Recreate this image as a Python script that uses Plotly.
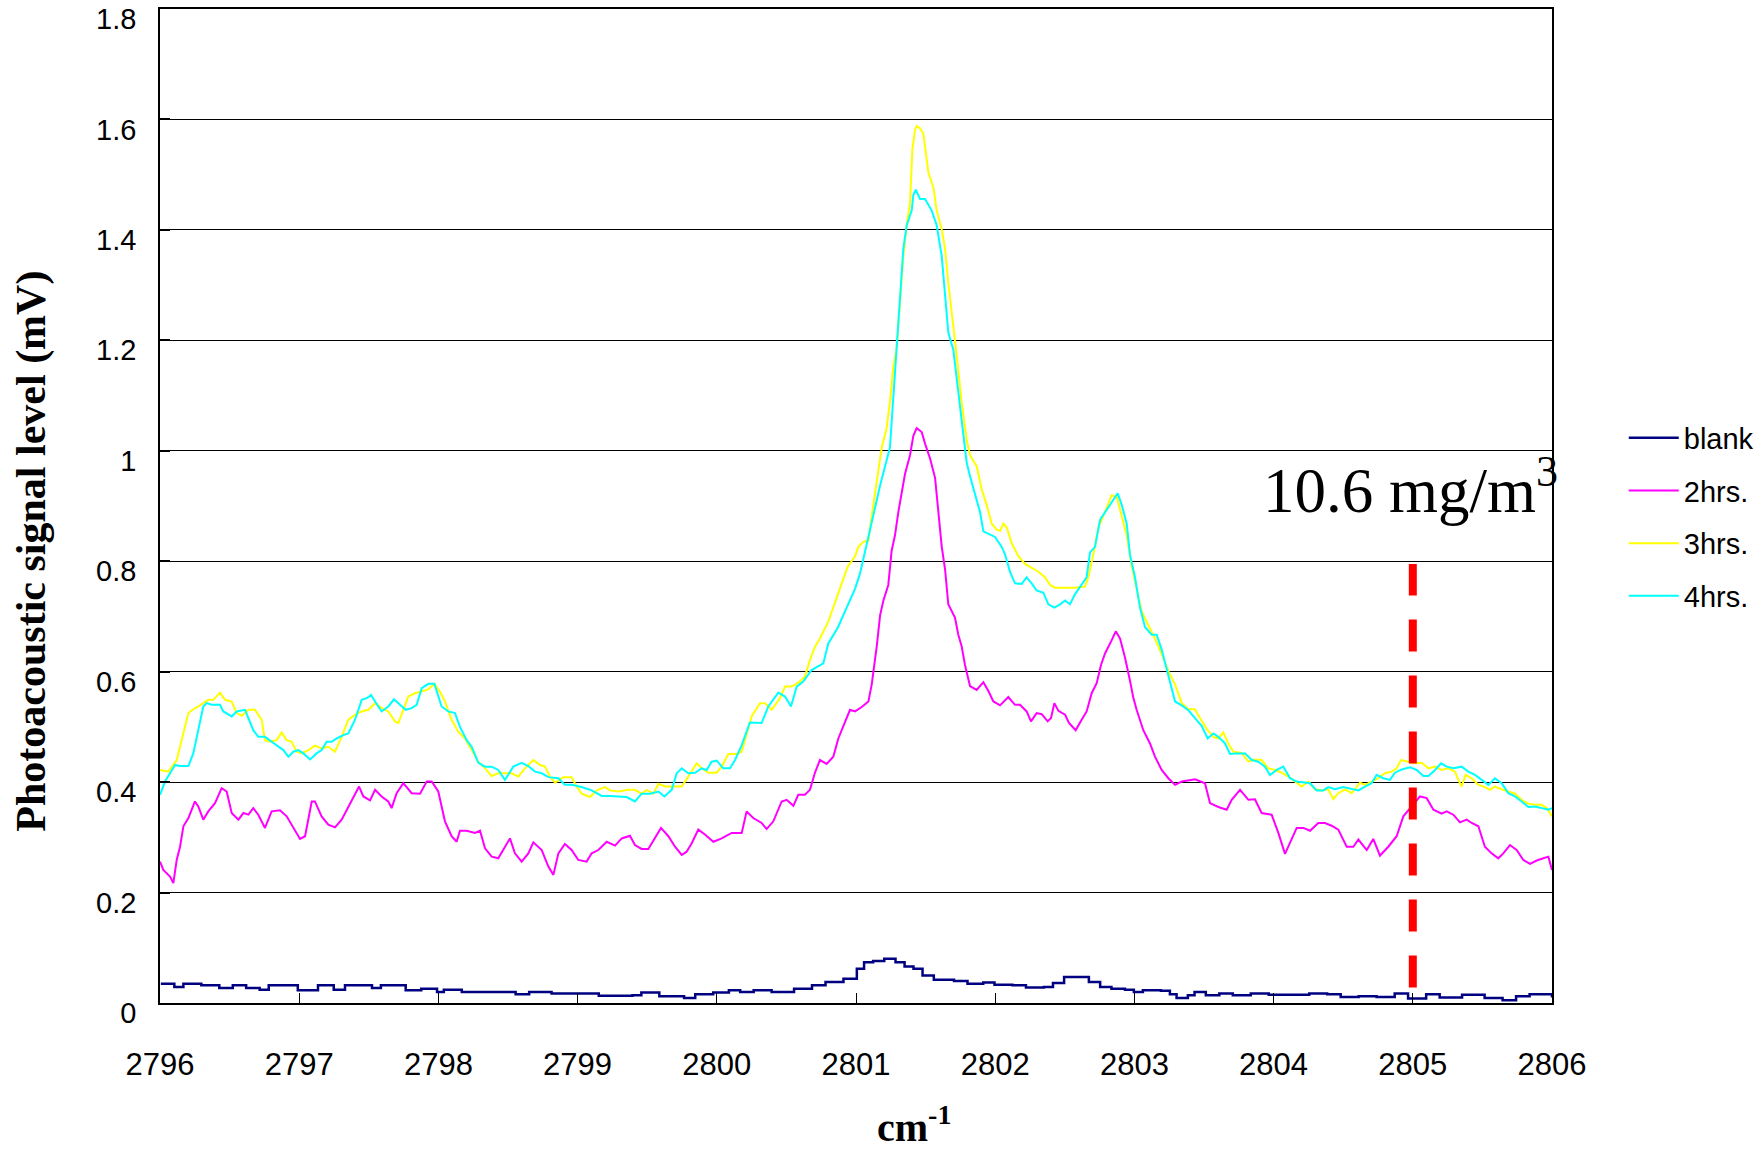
import plotly.graph_objects as go

# ---------------- data ----------------
series_names = ["blank", "2hrs.", "3hrs.", "4hrs."]
series_colors = ["#000080", "#FF00FF", "#FFFF00", "#00FFFF"]

x_ticks = [2796, 2797, 2798, 2799, 2800, 2801, 2802, 2803, 2804, 2805, 2806]
y_ticks = [0, 0.2, 0.4, 0.6, 0.8, 1.0, 1.2, 1.4, 1.6, 1.8]
y_tick_labels = ["0", "0.2", "0.4", "0.6", "0.8", "1", "1.2", "1.4", "1.6", "1.8"]

x_blank = [2796.006, 2796.103, 2796.168, 2796.232, 2796.297, 2796.426, 2796.523, 2796.619, 2796.716, 2796.781,
           2796.910, 2796.990, 2797.135, 2797.248, 2797.329, 2797.523, 2797.587, 2797.668, 2797.765, 2797.877,
           2797.990, 2798.039, 2798.168, 2798.361, 2798.555, 2798.652, 2798.813, 2799.006, 2799.152, 2799.394,
           2799.458, 2799.587, 2799.765, 2799.845, 2799.974, 2800.087, 2800.168, 2800.265, 2800.394, 2800.555,
           2800.684, 2800.781, 2800.910, 2801.006, 2801.058, 2801.123, 2801.203, 2801.284, 2801.349, 2801.413,
           2801.478, 2801.559, 2801.704, 2801.801, 2801.914, 2801.995, 2802.124, 2802.221, 2802.350, 2802.415,
           2802.495, 2802.576, 2802.673, 2802.754, 2802.835, 2802.932, 2802.996, 2803.061, 2803.190, 2803.255,
           2803.303, 2803.384, 2803.432, 2803.513, 2803.610, 2803.707, 2803.836, 2803.965, 2804.094, 2804.256,
           2804.385, 2804.482, 2804.611, 2804.740, 2804.870, 2804.966, 2805.096, 2805.193, 2805.354, 2805.516,
           2805.645, 2805.742, 2805.839, 2805.935, 2806.000]
y_blank = [0.035, 0.029, 0.035, 0.035, 0.032, 0.027, 0.032, 0.027, 0.024, 0.032,
           0.032, 0.023, 0.032, 0.024, 0.032, 0.027, 0.032, 0.032, 0.023, 0.026,
           0.020, 0.024, 0.020, 0.020, 0.016, 0.020, 0.017, 0.017, 0.013, 0.014,
           0.019, 0.012, 0.009, 0.016, 0.019, 0.023, 0.020, 0.023, 0.020, 0.026,
           0.032, 0.038, 0.044, 0.062, 0.074, 0.076, 0.080, 0.074, 0.066, 0.062,
           0.050, 0.042, 0.040, 0.035, 0.037, 0.033, 0.032, 0.028, 0.029, 0.036,
           0.047, 0.047, 0.038, 0.029, 0.026, 0.024, 0.020, 0.023, 0.022, 0.016,
           0.009, 0.014, 0.020, 0.014, 0.017, 0.014, 0.017, 0.015, 0.015, 0.017,
           0.016, 0.011, 0.012, 0.011, 0.017, 0.008, 0.016, 0.010, 0.015, 0.009,
           0.005, 0.012, 0.016, 0.016, 0.010]

x_2hrs = [2796.000, 2796.024, 2796.072, 2796.096, 2796.120, 2796.144, 2796.168, 2796.204, 2796.251, 2796.275,
          2796.311, 2796.347, 2796.395, 2796.443, 2796.479, 2796.515, 2796.563, 2796.599, 2796.635, 2796.670,
          2796.706, 2796.754, 2796.802, 2796.862, 2796.910, 2796.958, 2797.006, 2797.042, 2797.090, 2797.113,
          2797.161, 2797.209, 2797.257, 2797.305, 2797.353, 2797.401, 2797.430, 2797.461, 2797.509, 2797.545,
          2797.592, 2797.640, 2797.664, 2797.700, 2797.748, 2797.808, 2797.868, 2797.916, 2797.952, 2797.999,
          2798.047, 2798.095, 2798.131, 2798.155, 2798.203, 2798.263, 2798.299, 2798.335, 2798.383, 2798.430,
          2798.466, 2798.514, 2798.550, 2798.598, 2798.646, 2798.682, 2798.742, 2798.790, 2798.826, 2798.862,
          2798.909, 2798.957, 2799.005, 2799.065, 2799.101, 2799.149, 2799.209, 2799.269, 2799.317, 2799.376,
          2799.412, 2799.460, 2799.508, 2799.556, 2799.599, 2799.652, 2799.700, 2799.748, 2799.783, 2799.819,
          2799.867, 2799.915, 2799.975, 2800.035, 2800.107, 2800.179, 2800.214, 2800.262, 2800.322, 2800.358,
          2800.406, 2800.466, 2800.502, 2800.550, 2800.585, 2800.633, 2800.669, 2800.705, 2800.741, 2800.789,
          2800.837, 2800.873, 2800.921, 2800.957, 2800.993, 2801.041, 2801.089, 2801.113, 2801.149, 2801.173,
          2801.197, 2801.232, 2801.256, 2801.280, 2801.304, 2801.328, 2801.352, 2801.388, 2801.412, 2801.436,
          2801.472, 2801.496, 2801.532, 2801.568, 2801.592, 2801.616, 2801.640, 2801.663, 2801.711, 2801.735,
          2801.759, 2801.783, 2801.819, 2801.867, 2801.915, 2801.951, 2801.987, 2802.035, 2802.094, 2802.142,
          2802.178, 2802.226, 2802.257, 2802.298, 2802.334, 2802.377, 2802.401, 2802.425, 2802.454, 2802.502,
          2802.530, 2802.578, 2802.621, 2802.657, 2802.693, 2802.729, 2802.760, 2802.789, 2802.837, 2802.866,
          2802.897, 2802.932, 2802.968, 2802.992, 2803.016, 2803.064, 2803.112, 2803.148, 2803.196, 2803.244,
          2803.292, 2803.340, 2803.436, 2803.507, 2803.543, 2803.603, 2803.663, 2803.699, 2803.759, 2803.819,
          2803.866, 2803.914, 2803.986, 2804.034, 2804.082, 2804.130, 2804.166, 2804.214, 2804.262, 2804.321,
          2804.369, 2804.417, 2804.465, 2804.525, 2804.573, 2804.609, 2804.669, 2804.716, 2804.764, 2804.824,
          2804.884, 2804.932, 2804.992, 2805.052, 2805.100, 2805.148, 2805.207, 2805.243, 2805.291, 2805.339,
          2805.387, 2805.423, 2805.471, 2805.518, 2805.566, 2805.614, 2805.650, 2805.698, 2805.746, 2805.794,
          2805.842, 2805.890, 2805.938, 2805.974, 2806.000]
y_2hrs = [0.256, 0.241, 0.229, 0.217, 0.259, 0.283, 0.320, 0.335, 0.365, 0.356,
          0.332, 0.347, 0.362, 0.389, 0.383, 0.344, 0.332, 0.344, 0.341, 0.353,
          0.341, 0.317, 0.347, 0.349, 0.338, 0.317, 0.297, 0.302, 0.365, 0.365,
          0.338, 0.323, 0.318, 0.332, 0.356, 0.377, 0.392, 0.374, 0.367, 0.386,
          0.374, 0.365, 0.353, 0.380, 0.398, 0.380, 0.379, 0.401, 0.401, 0.383,
          0.329, 0.302, 0.292, 0.312, 0.312, 0.308, 0.312, 0.280, 0.265, 0.262,
          0.277, 0.298, 0.271, 0.256, 0.271, 0.291, 0.277, 0.247, 0.232, 0.271,
          0.288, 0.277, 0.259, 0.256, 0.271, 0.277, 0.292, 0.285, 0.298, 0.303,
          0.286, 0.279, 0.279, 0.298, 0.317, 0.302, 0.283, 0.268, 0.274, 0.289,
          0.314, 0.305, 0.292, 0.298, 0.308, 0.308, 0.347, 0.335, 0.326, 0.315,
          0.329, 0.365, 0.368, 0.357, 0.377, 0.377, 0.386, 0.417, 0.440, 0.433,
          0.446, 0.479, 0.507, 0.531, 0.528, 0.536, 0.546, 0.577, 0.646, 0.702,
          0.729, 0.757, 0.819, 0.847, 0.889, 0.923, 0.958, 0.992, 1.027, 1.041,
          1.034, 1.013, 0.986, 0.951, 0.882, 0.826, 0.785, 0.722, 0.698, 0.667,
          0.646, 0.612, 0.574, 0.567, 0.581, 0.565, 0.546, 0.539, 0.554, 0.540,
          0.540, 0.528, 0.510, 0.525, 0.523, 0.510, 0.516, 0.543, 0.529, 0.522,
          0.507, 0.494, 0.513, 0.528, 0.561, 0.579, 0.612, 0.633, 0.657, 0.673,
          0.660, 0.626, 0.584, 0.553, 0.531, 0.494, 0.470, 0.446, 0.422, 0.407,
          0.395, 0.401, 0.405, 0.398, 0.362, 0.355, 0.350, 0.368, 0.386, 0.368,
          0.369, 0.344, 0.341, 0.308, 0.270, 0.296, 0.317, 0.317, 0.312, 0.326,
          0.326, 0.321, 0.314, 0.283, 0.283, 0.296, 0.277, 0.297, 0.267, 0.283,
          0.302, 0.338, 0.356, 0.374, 0.371, 0.350, 0.343, 0.347, 0.341, 0.327,
          0.332, 0.326, 0.320, 0.283, 0.271, 0.262, 0.271, 0.286, 0.277, 0.259,
          0.252, 0.258, 0.262, 0.265, 0.241]

x_3hrs = [2796.000, 2796.060, 2796.120, 2796.156, 2796.204, 2796.239, 2796.275, 2796.347, 2796.383, 2796.431,
          2796.467, 2796.515, 2796.551, 2796.587, 2796.635, 2796.682, 2796.730, 2796.754, 2796.790, 2796.838,
          2796.874, 2796.910, 2796.946, 2796.982, 2797.018, 2797.066, 2797.113, 2797.161, 2797.209, 2797.257,
          2797.305, 2797.353, 2797.401, 2797.449, 2797.497, 2797.545, 2797.592, 2797.640, 2797.688, 2797.712,
          2797.748, 2797.784, 2797.832, 2797.880, 2797.928, 2797.971, 2798.011, 2798.047, 2798.095, 2798.143,
          2798.191, 2798.239, 2798.287, 2798.335, 2798.383, 2798.430, 2798.478, 2798.526, 2798.574, 2798.622,
          2798.682, 2798.730, 2798.766, 2798.802, 2798.838, 2798.897, 2798.957, 2798.993, 2799.029, 2799.089,
          2799.137, 2799.197, 2799.233, 2799.293, 2799.364, 2799.412, 2799.460, 2799.496, 2799.544, 2799.580,
          2799.628, 2799.676, 2799.748, 2799.795, 2799.855, 2799.891, 2799.939, 2799.999, 2800.035, 2800.083,
          2800.143, 2800.179, 2800.202, 2800.250, 2800.310, 2800.346, 2800.394, 2800.454, 2800.490, 2800.538,
          2800.585, 2800.633, 2800.669, 2800.705, 2800.741, 2800.800, 2800.870, 2800.940, 2800.993, 2801.017,
          2801.053, 2801.089, 2801.113, 2801.149, 2801.185, 2801.220, 2801.244, 2801.268, 2801.292, 2801.316,
          2801.340, 2801.364, 2801.388, 2801.405, 2801.424, 2801.436, 2801.460, 2801.484, 2801.496, 2801.520,
          2801.556, 2801.580, 2801.616, 2801.640, 2801.663, 2801.687, 2801.711, 2801.735, 2801.759, 2801.795,
          2801.819, 2801.867, 2801.903, 2801.939, 2801.975, 2802.011, 2802.035, 2802.059, 2802.083, 2802.118,
          2802.166, 2802.214, 2802.262, 2802.310, 2802.358, 2802.394, 2802.430, 2802.478, 2802.526, 2802.573,
          2802.645, 2802.669, 2802.705, 2802.741, 2802.777, 2802.813, 2802.837, 2802.873, 2802.909, 2802.945,
          2802.980, 2803.016, 2803.052, 2803.100, 2803.148, 2803.196, 2803.244, 2803.292, 2803.340, 2803.388,
          2803.435, 2803.471, 2803.519, 2803.567, 2803.603, 2803.639, 2803.675, 2803.711, 2803.771, 2803.819,
          2803.866, 2803.914, 2803.962, 2804.010, 2804.058, 2804.106, 2804.154, 2804.202, 2804.250, 2804.297,
          2804.345, 2804.393, 2804.429, 2804.465, 2804.513, 2804.561, 2804.621, 2804.657, 2804.704, 2804.752,
          2804.800, 2804.848, 2804.884, 2804.915, 2804.968, 2805.016, 2805.064, 2805.112, 2805.160, 2805.207,
          2805.255, 2805.303, 2805.327, 2805.351, 2805.379, 2805.423, 2805.471, 2805.518, 2805.554, 2805.590,
          2805.638, 2805.686, 2805.734, 2805.782, 2805.830, 2805.878, 2805.926, 2805.962, 2806.000]
y_3hrs = [0.422, 0.419, 0.440, 0.476, 0.525, 0.532, 0.537, 0.549, 0.549, 0.562,
          0.549, 0.546, 0.525, 0.520, 0.531, 0.531, 0.513, 0.476, 0.473, 0.476,
          0.490, 0.476, 0.473, 0.455, 0.452, 0.458, 0.466, 0.461, 0.464, 0.455,
          0.482, 0.513, 0.522, 0.528, 0.531, 0.543, 0.534, 0.528, 0.510, 0.507,
          0.531, 0.555, 0.561, 0.564, 0.568, 0.578, 0.564, 0.546, 0.513, 0.491,
          0.479, 0.458, 0.437, 0.425, 0.411, 0.416, 0.416, 0.416, 0.410, 0.425,
          0.440, 0.431, 0.428, 0.410, 0.399, 0.409, 0.409, 0.392, 0.379, 0.373,
          0.385, 0.391, 0.385, 0.383, 0.386, 0.386, 0.379, 0.386, 0.379, 0.397,
          0.392, 0.392, 0.392, 0.410, 0.434, 0.425, 0.417, 0.417, 0.428, 0.451,
          0.451, 0.455, 0.476, 0.519, 0.543, 0.543, 0.531, 0.552, 0.573, 0.573,
          0.580, 0.591, 0.621, 0.645, 0.660, 0.690, 0.740, 0.790, 0.809, 0.826,
          0.835, 0.837, 0.882, 0.944, 1.006, 1.041, 1.089, 1.152, 1.186, 1.269,
          1.352, 1.408, 1.449, 1.546, 1.581, 1.588, 1.584, 1.574, 1.553, 1.504,
          1.477, 1.435, 1.401, 1.366, 1.304, 1.255, 1.200, 1.145, 1.089, 1.020,
          0.992, 0.972, 0.930, 0.902, 0.868, 0.857, 0.855, 0.868, 0.861, 0.833,
          0.809, 0.795, 0.788, 0.781, 0.771, 0.757, 0.752, 0.752, 0.752, 0.752,
          0.754, 0.771, 0.812, 0.861, 0.882, 0.906, 0.920, 0.916, 0.882, 0.847,
          0.792, 0.750, 0.709, 0.684, 0.660, 0.632, 0.601, 0.577, 0.543, 0.532,
          0.532, 0.516, 0.497, 0.482, 0.479, 0.490, 0.470, 0.455, 0.453, 0.437,
          0.441, 0.440, 0.425, 0.422, 0.417, 0.410, 0.401, 0.392, 0.401, 0.387,
          0.385, 0.387, 0.369, 0.380, 0.387, 0.380, 0.399, 0.395, 0.401, 0.407,
          0.416, 0.419, 0.425, 0.440, 0.437, 0.434, 0.435, 0.425, 0.428, 0.422,
          0.425, 0.419, 0.404, 0.392, 0.413, 0.407, 0.395, 0.391, 0.386, 0.392,
          0.387, 0.383, 0.379, 0.368, 0.361, 0.359, 0.359, 0.353, 0.338]

x_4hrs = [2796.000, 2796.036, 2796.072, 2796.108, 2796.144, 2796.204, 2796.239, 2796.275, 2796.311, 2796.335,
          2796.371, 2796.431, 2796.455, 2796.515, 2796.551, 2796.611, 2796.635, 2796.670, 2796.706, 2796.754,
          2796.802, 2796.850, 2796.886, 2796.922, 2796.958, 2796.994, 2797.030, 2797.078, 2797.125, 2797.161,
          2797.197, 2797.233, 2797.269, 2797.317, 2797.353, 2797.401, 2797.449, 2797.485, 2797.516, 2797.545,
          2797.592, 2797.640, 2797.681, 2797.724, 2797.765, 2797.808, 2797.844, 2797.880, 2797.928, 2797.971,
          2798.023, 2798.071, 2798.119, 2798.155, 2798.203, 2798.239, 2798.287, 2798.335, 2798.383, 2798.430,
          2798.478, 2798.538, 2798.598, 2798.646, 2798.694, 2798.742, 2798.790, 2798.862, 2798.909, 2798.957,
          2799.029, 2799.101, 2799.173, 2799.233, 2799.293, 2799.352, 2799.412, 2799.460, 2799.520, 2799.580,
          2799.623, 2799.676, 2799.712, 2799.748, 2799.795, 2799.843, 2799.891, 2799.927, 2799.963, 2799.999,
          2800.047, 2800.095, 2800.131, 2800.179, 2800.238, 2800.322, 2800.370, 2800.442, 2800.490, 2800.533,
          2800.574, 2800.621, 2800.681, 2800.765, 2800.801, 2800.870, 2800.940, 2800.993, 2801.029, 2801.065,
          2801.101, 2801.137, 2801.173, 2801.209, 2801.244, 2801.268, 2801.292, 2801.316, 2801.340, 2801.364,
          2801.400, 2801.412, 2801.429, 2801.460, 2801.496, 2801.544, 2801.580, 2801.616, 2801.640, 2801.663,
          2801.699, 2801.723, 2801.747, 2801.771, 2801.795, 2801.819, 2801.855, 2801.891, 2801.915, 2801.951,
          2801.999, 2802.047, 2802.071, 2802.106, 2802.142, 2802.190, 2802.226, 2802.262, 2802.298, 2802.346,
          2802.382, 2802.425, 2802.466, 2802.502, 2802.537, 2802.573, 2802.621, 2802.657, 2802.681, 2802.717,
          2802.753, 2802.789, 2802.825, 2802.849, 2802.880, 2802.909, 2802.945, 2802.968, 2803.004, 2803.040,
          2803.076, 2803.124, 2803.160, 2803.196, 2803.244, 2803.292, 2803.340, 2803.388, 2803.435, 2803.483,
          2803.526, 2803.567, 2803.603, 2803.651, 2803.687, 2803.723, 2803.795, 2803.843, 2803.890, 2803.938,
          2803.974, 2804.022, 2804.070, 2804.118, 2804.166, 2804.226, 2804.262, 2804.309, 2804.357, 2804.393,
          2804.441, 2804.501, 2804.561, 2804.609, 2804.657, 2804.704, 2804.740, 2804.788, 2804.836, 2804.872,
          2804.920, 2804.980, 2805.028, 2805.076, 2805.112, 2805.160, 2805.203, 2805.243, 2805.291, 2805.351,
          2805.399, 2805.447, 2805.495, 2805.542, 2805.590, 2805.638, 2805.686, 2805.734, 2805.782, 2805.830,
          2805.878, 2805.926, 2805.974, 2806.000]
y_4hrs = [0.377, 0.401, 0.416, 0.431, 0.429, 0.429, 0.452, 0.494, 0.537, 0.543,
          0.540, 0.540, 0.528, 0.519, 0.528, 0.531, 0.516, 0.494, 0.482, 0.482,
          0.473, 0.464, 0.458, 0.446, 0.455, 0.458, 0.452, 0.441, 0.452, 0.458,
          0.473, 0.473, 0.479, 0.485, 0.488, 0.513, 0.549, 0.552, 0.558, 0.546,
          0.528, 0.537, 0.550, 0.540, 0.531, 0.534, 0.540, 0.570, 0.578, 0.578,
          0.537, 0.528, 0.525, 0.500, 0.476, 0.464, 0.435, 0.428, 0.428, 0.422,
          0.404, 0.428, 0.435, 0.429, 0.419, 0.416, 0.409, 0.407, 0.395, 0.395,
          0.391, 0.385, 0.375, 0.375, 0.374, 0.373, 0.365, 0.379, 0.379, 0.383,
          0.374, 0.386, 0.416, 0.425, 0.416, 0.417, 0.425, 0.422, 0.437, 0.439,
          0.425, 0.425, 0.440, 0.467, 0.508, 0.507, 0.537, 0.562, 0.555, 0.537,
          0.573, 0.582, 0.603, 0.615, 0.651, 0.680, 0.720, 0.750, 0.778, 0.819,
          0.854, 0.896, 0.937, 0.972, 1.006, 1.096, 1.193, 1.276, 1.366, 1.408,
          1.435, 1.463, 1.473, 1.456, 1.456, 1.435, 1.408, 1.352, 1.276, 1.214,
          1.183, 1.131, 1.075, 1.027, 0.979, 0.954, 0.923, 0.889, 0.854, 0.850,
          0.844, 0.826, 0.812, 0.781, 0.760, 0.759, 0.771, 0.760, 0.747, 0.743,
          0.722, 0.716, 0.722, 0.729, 0.722, 0.740, 0.757, 0.771, 0.816, 0.826,
          0.875, 0.889, 0.902, 0.913, 0.923, 0.902, 0.868, 0.812, 0.771, 0.716,
          0.681, 0.667, 0.667, 0.640, 0.591, 0.546, 0.539, 0.530, 0.516, 0.502,
          0.479, 0.488, 0.482, 0.470, 0.451, 0.452, 0.452, 0.440, 0.437, 0.428,
          0.413, 0.422, 0.428, 0.407, 0.401, 0.399, 0.398, 0.385, 0.385, 0.391,
          0.387, 0.391, 0.387, 0.385, 0.392, 0.398, 0.413, 0.407, 0.404, 0.417,
          0.423, 0.427, 0.422, 0.411, 0.411, 0.422, 0.434, 0.428, 0.425, 0.428,
          0.419, 0.413, 0.404, 0.395, 0.407, 0.398, 0.380, 0.374, 0.365, 0.355,
          0.356, 0.353, 0.350, 0.353]

# concentration marker
marker_x = 2805.0
marker_y_bottom = 0.028
marker_y_top = 0.795
marker_label = "10.6 mg/m<sup>3</sup>"

x_title = "cm<sup>-1</sup>"
y_title = "Photoacoustic signal level (mV)"

# ---------------- figure ----------------
SANS = "Liberation Sans, Arial, sans-serif"
SERIF = "Liberation Serif, Times New Roman, serif"

xs = [x_blank, x_2hrs, x_3hrs, x_4hrs]
ys = [y_blank, y_2hrs, y_3hrs, y_4hrs]

fig = go.Figure()
for i, (name, color, xv, yv) in enumerate(zip(series_names, series_colors, xs, ys)):
    fig.add_trace(go.Scatter(
        x=xv, y=yv, mode="lines", name=name,
        line=dict(color=color, width=2.5 if i == 0 else 2,
                  shape="hv" if i == 0 else "linear"),
        legendgroup=name,
    ))

fig.add_shape(type="line", xref="x", yref="y",
              x0=marker_x, x1=marker_x, y0=marker_y_bottom, y1=marker_y_top,
              line=dict(color="#FF0000", width=8, dash="32px,24px"))

fig.add_annotation(x=1.0055, xref="paper", y=0.52, yref="paper",
                   xanchor="right", yanchor="middle", showarrow=False,
                   text=marker_label, font=dict(family=SERIF, size=63, color="black"))

fig.add_annotation(x=-0.092, xref="paper", y=0.455, yref="paper",
                   xanchor="center", yanchor="middle", showarrow=False, textangle=-90,
                   text="<b>" + y_title + "</b>", font=dict(family=SERIF, size=42, color="black"))

fig.add_annotation(x=0.5417, xref="paper", y=-0.122, yref="paper",
                   xanchor="center", yanchor="middle", showarrow=False,
                   text="<b>" + x_title + "</b>", font=dict(family=SERIF, size=40, color="black"))

fig.update_layout(
    width=1764, height=1152,
    margin=dict(l=160, r=212, t=9, b=148.5, pad=0, autoexpand=False),
    paper_bgcolor="white", plot_bgcolor="white",
    showlegend=True,
    legend=dict(xref="container", yref="container", x=0.9205, y=0.642,
                xanchor="left", yanchor="top",
                font=dict(family=SANS, size=29, color="black"),
                tracegroupgap=12, itemwidth=50, bgcolor="rgba(0,0,0,0)"),
    xaxis=dict(range=[2796, 2806], tickvals=x_ticks, ticks="inside", ticklen=10,
               tickcolor="black", tickwidth=1, showgrid=False, zeroline=False,
               showline=True, linecolor="black", linewidth=1.5, mirror=True,
               automargin=False,
               tickfont=dict(family=SANS, size=31, color="black"),
               ticklabelstandoff=33),
    yaxis=dict(range=[0, 1.8], tickvals=y_ticks, ticktext=y_tick_labels,
               ticks="inside", ticklen=10,
               tickcolor="black", tickwidth=1.5, showgrid=True, gridcolor="#000000",
               gridwidth=1, zeroline=False,
               showline=True, linecolor="black", linewidth=1.5, mirror=True,
               automargin=False,
               tickfont=dict(family=SANS, size=29, color="black"),
               ticklabelstandoff=16, ticklabelshift=10),
)

fig.write_html("out.html")
